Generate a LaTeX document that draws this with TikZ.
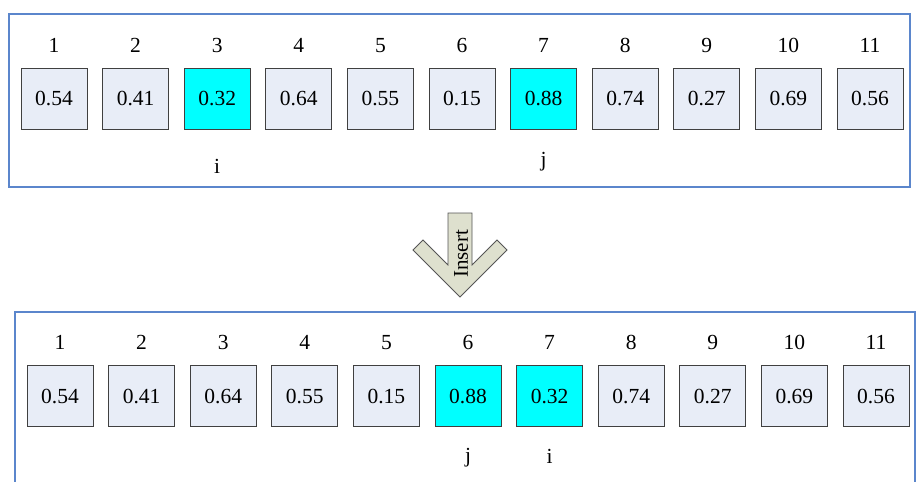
\documentclass[tikz,border=0pt]{standalone}
\usepackage{fontspec}
\setmainfont{Liberation Serif}
\definecolor{framecol}{HTML}{5B86CC}
\definecolor{cellfill}{HTML}{E8EDF7}
\definecolor{hotfill}{HTML}{00FFFF}
\definecolor{cellline}{HTML}{404040}
\definecolor{arrowfill}{HTML}{DEE0CE}
\definecolor{arrowline}{HTML}{555555}
\tikzset{
  frame/.style={draw=framecol, line width=1.8pt},
  cell/.style={draw=cellline, line width=1pt, fill=cellfill,
    minimum width=66pt, minimum height=61pt, inner sep=0pt,
    font=\fontsize{21.5}{25}\selectfont},
  hot/.style={cell, fill=hotfill},
  idx/.style={anchor=base, inner sep=0pt, font=\fontsize{21.5}{25}\selectfont},
}
\begin{document}
\begin{tikzpicture}[x=1pt, y=-1pt]
\useasboundingbox (0,0) rectangle (916,482);
\clip (0,0) rectangle (916,482);
\fill[white] (0,0) rectangle (916,482);

% upper array, before the insertion
\draw[frame] (9,14) rectangle (910,187);
\foreach \v [count=\k] in {0.54,0.41,0.32,0.64,0.55,0.15,0.88,0.74,0.27,0.69,0.56} {
  \pgfmathsetmacro{\cx}{54+81.6*(\k-1)}
  \ifnum\k=3 \def\st{hot}\else\ifnum\k=7 \def\st{hot}\else\def\st{cell}\fi\fi
  \node[\st] (t\k) at (\cx,98.5) {\v};
  \node[idx] (tn\k) at (\cx,52.5) {\k};
}
\node[idx] (ti) at (t3.center |- 0,173) {i};
\node[idx] (tj) at (t7.center |- 0,166) {j};

% insert arrow
\draw[fill=arrowfill, draw=arrowline, line width=0.8pt, line join=miter]
  (448,213) -- (472,213) -- (472,265) -- (497,240) -- (507,250)
  -- (460,297) -- (413,250) -- (423,240) -- (448,265) -- cycle;
\node[rotate=90, inner sep=0pt, font=\fontsize{21}{24}\selectfont] (ins) at (461,254) {Insert};

% lower array, after the insertion
\draw[frame] (15,312) rectangle (915,500);
\foreach \v [count=\k] in {0.54,0.41,0.64,0.55,0.15,0.88,0.32,0.74,0.27,0.69,0.56} {
  \pgfmathsetmacro{\cx}{60+81.6*(\k-1)}
  \ifnum\k=6 \def\st{hot}\else\ifnum\k=7 \def\st{hot}\else\def\st{cell}\fi\fi
  \node[\st] (b\k) at (\cx,396) {\v};
  \node[idx] (bn\k) at (\cx,349) {\k};
}
\node[idx] (bj) at (b6.center |- 0,462) {j};
\node[idx] (bi) at (b7.center |- 0,463) {i};
\end{tikzpicture}
\end{document}
